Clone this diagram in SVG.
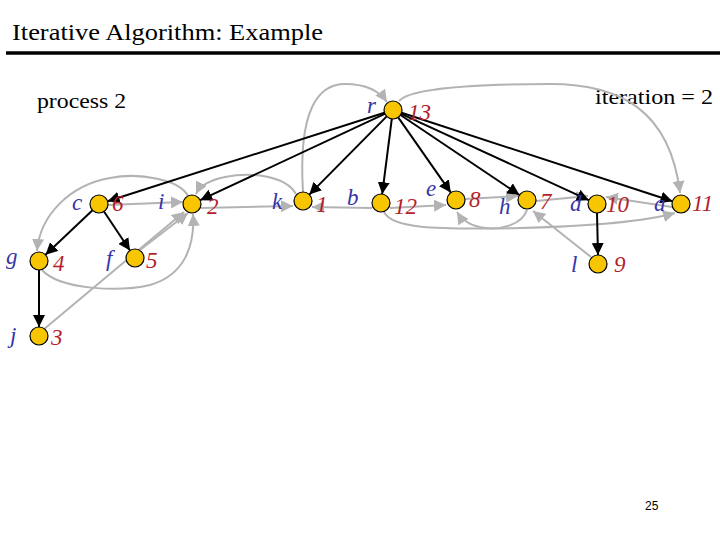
<svg xmlns="http://www.w3.org/2000/svg" width="720" height="540" viewBox="0 0 720 540">
<defs>
<marker id="ab" viewBox="0 0 10 10" refX="10" refY="5" markerWidth="6" markerHeight="6" orient="auto"><path d="M0,0 L10,5 L0,10 z" fill="#000"/></marker>
<marker id="ag" viewBox="0 0 10 10" refX="10" refY="5" markerWidth="6" markerHeight="6" orient="auto"><path d="M0,0 L10,5 L0,10 z" fill="#b3b3b3"/></marker>
</defs>
<style>
.t{font-family:"Liberation Serif","DejaVu Serif",serif;fill:#000}
.n circle{fill:#f7c600;stroke:#000;stroke-width:1.2}
.lb{font-family:"Liberation Serif","DejaVu Serif",serif;font-style:italic;font-size:23px;fill:#3535a8}
.nm{font-family:"Liberation Serif","DejaVu Serif",serif;font-style:italic;font-size:23px;fill:#b51f2b}
.bk{stroke:#000;stroke-width:2;fill:none;marker-end:url(#ab)}
.gr{stroke:#b3b3b3;stroke-width:2;fill:none;marker-end:url(#ag)}
</style>
<rect width="720" height="540" fill="#fff"/>
<text class="t" x="12" y="40" font-size="24" textLength="311" lengthAdjust="spacingAndGlyphs">Iterative Algorithm: Example</text>
<line x1="6" y1="53" x2="720" y2="53" stroke="#000" stroke-width="3.5"/>
<text class="t" x="37" y="108" font-size="21" textLength="89" lengthAdjust="spacingAndGlyphs">process 2</text>
<text class="t" x="595" y="104" font-size="21" textLength="118" lengthAdjust="spacingAndGlyphs">iteration = 2</text>
<text x="645" y="510" font-family="Liberation Sans, sans-serif" font-size="12" fill="#000">25</text>
<g id="connectors">
<g id="gray">
<path class="gr" d="M303,192 C298,110 318,84 345,84 C368,84 380,92 387,102"/>
<path class="gr" d="M399,101 C410,88 480,84 550,84 C620,84 670,110 680,193"/>
<path class="gr" d="M296,194 C285,175 250,172 225,177 C210,180 200,186 196,194"/>
<path class="gr" d="M188,196 C180,180 140,172 110,178 C70,185 40,215 37,251"/>
<path class="gr" d="M108,205 L183,202"/>
<path class="gr" d="M201,208 L293,206"/>
<path class="gr" d="M372,208 L312,207"/>
<path class="gr" d="M390,208 L446,205"/>
<path class="gr" d="M384,212 C392,228 430,230 520,228 C600,226 650,220 675,213"/>
<path class="gr" d="M465,199 L518,196"/>
<path class="gr" d="M527,210 C522,225 500,230 485,228 C470,226 462,220 457,212"/>
<path class="gr" d="M536,201 L588,196"/>
<path class="gr" d="M672,207 L606,197"/>
<path class="gr" d="M591,257 L533,211"/>
<path class="gr" d="M43,330 L184,212"/>
<path class="gr" d="M140,250 L188,213"/>
<path class="gr" d="M42,270 C60,290 120,292 150,285 C185,275 195,245 193,214"/>
</g>
<g id="tree">
<path class="bk" d="M384.4,112.7 L107.6,201.3"/>
<path class="bk" d="M384.8,113.8 L200.2,200.2"/>
<path class="bk" d="M386.7,116.4 L309.3,194.6"/>
<path class="bk" d="M391.8,118.9 L382.2,194.1"/>
<path class="bk" d="M398.2,117.4 L450.8,192.6"/>
<path class="bk" d="M400.5,115 L519.5,195"/>
<path class="bk" d="M401.2,113.8 L588.8,200.2"/>
<path class="bk" d="M401.6,112.8 L672.4,201.2"/>
<path class="bk" d="M92.5,210.2 L45.5,254.8"/>
<path class="bk" d="M104,211.5 L130,250.5"/>
<path class="bk" d="M39,270 L39,327"/>
<path class="bk" d="M597,213 L598,255"/>
</g>
</g>
<g id="node-r" class="n"><circle cx="393" cy="110" r="9"/><text class="lb" x="367" y="113">r</text><text class="nm" x="408" y="120">13</text></g>
<g id="node-c" class="n"><circle cx="99" cy="204" r="9"/><text class="lb" x="72" y="210">c</text><text class="nm" x="112" y="211">6</text></g>
<g id="node-i" class="n"><circle cx="192" cy="204" r="9"/><text class="lb" x="158" y="209">i</text><text class="nm" x="207" y="214">2</text></g>
<g id="node-k" class="n"><circle cx="303" cy="201" r="9"/><text class="lb" x="272" y="209">k</text><text class="nm" x="316" y="212">1</text></g>
<g id="node-b" class="n"><circle cx="381" cy="203" r="9"/><text class="lb" x="347" y="205">b</text><text class="nm" x="394" y="214">12</text></g>
<g id="node-e" class="n"><circle cx="456" cy="200" r="9"/><text class="lb" x="426" y="196">e</text><text class="nm" x="469" y="207">8</text></g>
<g id="node-h" class="n"><circle cx="527" cy="200" r="9"/><text class="lb" x="499" y="214">h</text><text class="nm" x="540" y="209">7</text></g>
<g id="node-d" class="n"><circle cx="597" cy="204" r="9"/><text class="lb" x="570" y="211">d</text><text class="nm" x="606" y="212">10</text></g>
<g id="node-a" class="n"><circle cx="681" cy="204" r="9"/><text class="lb" x="654" y="211">a</text><text class="nm" x="692" y="211">11</text></g>
<g id="node-g" class="n"><circle cx="39" cy="261" r="9"/><text class="lb" x="6" y="264">g</text><text class="nm" x="53" y="271">4</text></g>
<g id="node-f" class="n"><circle cx="135" cy="258" r="9"/><text class="lb" x="106" y="266">f</text><text class="nm" x="146" y="268">5</text></g>
<g id="node-j" class="n"><circle cx="39" cy="336" r="9"/><text class="lb" x="10" y="343">j</text><text class="nm" x="51" y="345">3</text></g>
<g id="node-l" class="n"><circle cx="598" cy="264" r="9"/><text class="lb" x="571" y="272">l</text><text class="nm" x="614" y="272">9</text></g>
</svg>
